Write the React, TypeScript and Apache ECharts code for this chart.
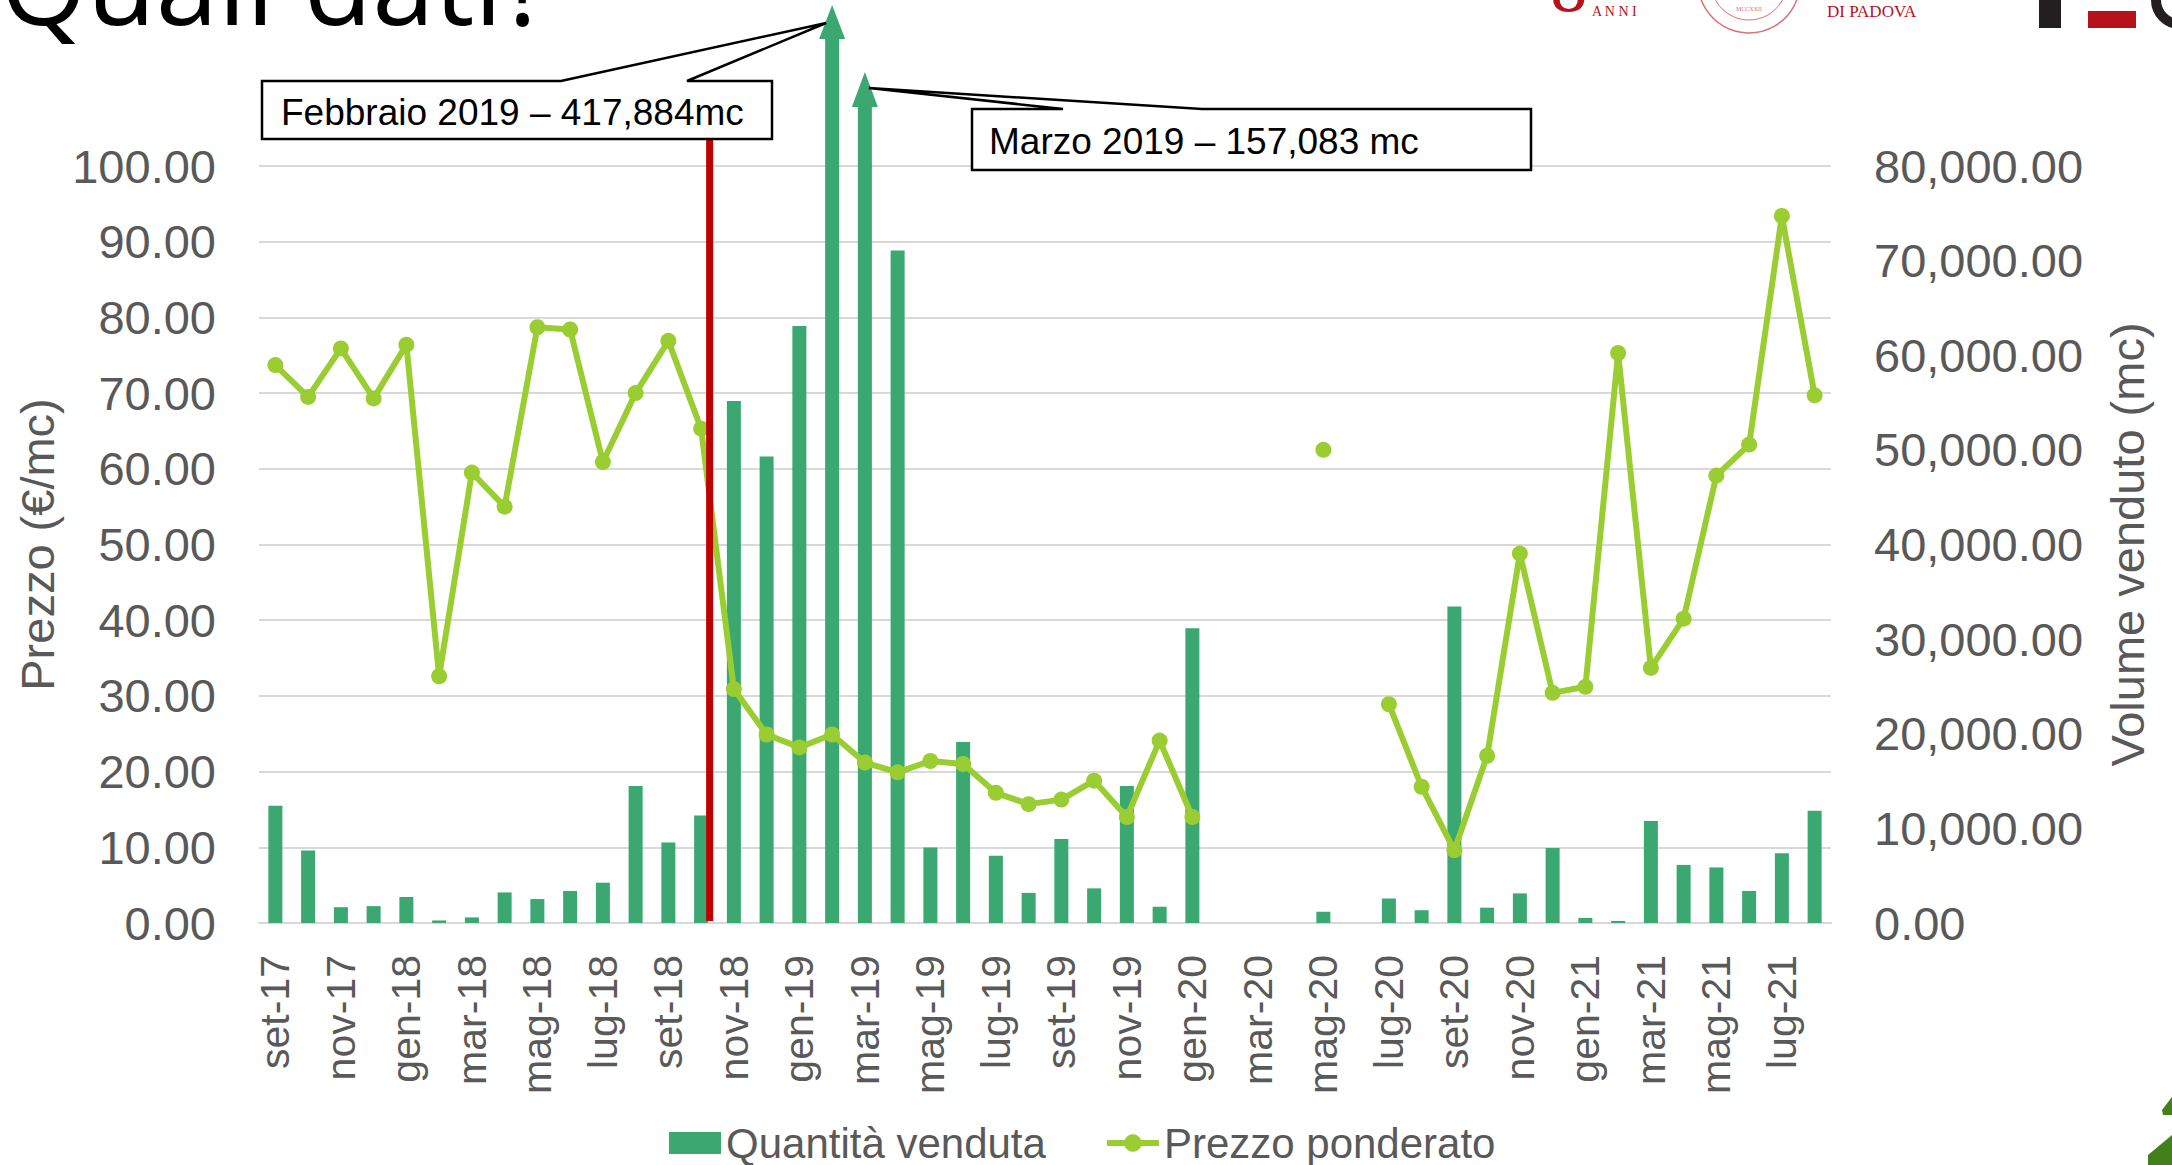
import React, { useEffect, useRef } from 'react';
import * as echarts from 'echarts';

const categories = [
  'set-17', 'ott-17', 'nov-17', 'dic-17', 'gen-18', 'feb-18', 'mar-18', 'apr-18', 'mag-18', 'giu-18', 'lug-18', 'ago-18',
  'set-18', 'ott-18', 'nov-18', 'dic-18', 'gen-19', 'feb-19', 'mar-19', 'apr-19', 'mag-19', 'giu-19', 'lug-19', 'ago-19',
  'set-19', 'ott-19', 'nov-19', 'dic-19', 'gen-20', 'feb-20', 'mar-20', 'apr-20', 'mag-20', 'giu-20', 'lug-20', 'ago-20',
  'set-20', 'ott-20', 'nov-20', 'dic-20', 'gen-21', 'feb-21', 'mar-21', 'apr-21', 'mag-21', 'giu-21', 'lug-21', 'ago-21',
];

// Quantità venduta (mc) - right axis
const volume = [
  12390, 7650, 1670, 1780, 2750, 270, 590, 3230, 2530, 3390, 4260, 14490,
  8510, 11370, 55170, 49300, 63100, 417884, 157083, 71070, 7970, 19130, 7110, 3180,
  8890, 3660, 14490, 1720, 31140, null, null, null, 1190, null, 2590, 1350,
  33460, 1620, 3130, 7920, 540, 220, 10780, 6140, 5870, 3390, 7380, 11850,
];

// Prezzo ponderato (€/mc) - left axis
const price = [
  73.7, 69.5, 75.9, 69.3, 76.4, 32.6, 59.5, 55.0, 78.7, 78.4, 60.9, 70.0,
  76.9, 65.3, 30.9, 24.9, 23.2, 24.9, 21.2, 19.9, 21.4, 21.0, 17.2, 15.7,
  16.3, 18.8, 14.0, 24.1, 14.0, null, null, null, 62.5, null, 28.9, 18.0,
  9.6, 22.1, 48.8, 30.4, 31.2, 75.3, 33.7, 40.2, 59.1, 63.2, 93.4, 69.7,
];

const seriesNames = ['Quantità venduta', 'Prezzo ponderato'];
const axisNames = ['Prezzo (€/mc)', 'Volume venduto (mc)'];
const calloutTexts = ['Febbraio 2019 – 417,884mc', 'Marzo 2019 – 157,083 mc'];
const titleText = 'Quali dati?';

const FONT = '"Liberation Sans", Arial, sans-serif';
const GRAY = '#595959';
const BAR = '#3aa870';
const LINE = '#9acd32';
const RED = '#b5121b';

export default function App() {
  const ref = useRef<HTMLDivElement>(null);
  useEffect(() => {
    document.body.style.margin = '0';
    const chart = echarts.init(ref.current!, null, { renderer: 'svg' });
    const nf = new Intl.NumberFormat('en-US', { minimumFractionDigits: 2, maximumFractionDigits: 2 });
    chart.setOption({
      animation: false,
      textStyle: { fontFamily: FONT },
      grid: { left: 259, right: 341, top: 166, bottom: 242, containLabel: false },
      legend: {
        data: [
          { name: seriesNames[0], icon: 'rect' },
          { name: seriesNames[1], lineStyle: { width: 6 } },
        ],
        left: 664,
        top: 1117,
        itemWidth: 52,
        itemHeight: 22,
        itemGap: 58,
        textStyle: { fontSize: 42, color: GRAY, fontFamily: FONT },
      },
      xAxis: {
        type: 'category',
        data: categories,
        axisLine: { lineStyle: { color: '#d9d9d9', width: 2 } },
        axisTick: { show: false },
        axisLabel: { interval: 1, rotate: 90, fontSize: 41, color: GRAY, margin: 32, fontFamily: FONT },
      },
      yAxis: [
        {
          type: 'value', min: 0, max: 100, interval: 10,
          name: axisNames[0], nameLocation: 'middle', nameGap: 195,
          nameTextStyle: { fontSize: 47, color: GRAY, fontFamily: FONT },
          axisLabel: { formatter: (v: number) => v.toFixed(2), fontSize: 47, color: GRAY, margin: 43, fontFamily: FONT },
          splitLine: { lineStyle: { color: '#d9d9d9', width: 2 } },
          axisLine: { show: false }, axisTick: { show: false },
        },
        {
          type: 'value', min: 0, max: 80000, interval: 10000, position: 'right',
          name: axisNames[1], nameLocation: 'middle', nameGap: 273, nameRotate: 90,
          nameTextStyle: { fontSize: 47, color: GRAY, fontFamily: FONT },
          axisLabel: { formatter: (v: number) => nf.format(v), fontSize: 47, color: GRAY, margin: 43, fontFamily: FONT },
          splitLine: { show: false },
          axisLine: { show: false }, axisTick: { show: false },
        },
      ],
      series: [
        {
          name: seriesNames[0], type: 'bar', yAxisIndex: 1, data: volume,
          barWidth: 14, itemStyle: { color: BAR }, clip: true,
        },
        {
          name: seriesNames[1], type: 'line', yAxisIndex: 0, data: price,
          itemStyle: { color: LINE }, lineStyle: { width: 6, color: LINE },
          symbol: 'circle', symbolSize: 16, showSymbol: true, showAllSymbol: true, connectNulls: false,
        },
      ],
    });

    const px = (c: string) => chart.convertToPixel({ xAxisIndex: 0 }, c) as number;
    const yTop = chart.convertToPixel({ yAxisIndex: 0 }, 100) as number;
    const yBase = chart.convertToPixel({ yAxisIndex: 0 }, 0) as number;
    const cFeb = px('feb-19');
    const cMar = px('mar-19');
    const cRed = px('ott-18') + 8.5;

    const arrow = (cx: number, shaftTop: number, tip: number) => [
      { type: 'rect', z: 50, shape: { x: cx - 7, y: shaftTop - 1, width: 14, height: yTop - shaftTop + 2 }, style: { fill: BAR } },
      { type: 'polygon', z: 50, shape: { points: [[cx - 13, shaftTop], [cx + 13, shaftTop], [cx, tip]] }, style: { fill: BAR } },
    ];

    const boxStyle = { fill: '#ffffff', stroke: '#000000', lineWidth: 2.5 };

    chart.setOption({
      graphic: [
        // title
        { type: 'text', z: 100, style: { text: titleText, x: 0, y: 37, fill: '#000', font: '112px "Open Sans", sans-serif', verticalAlign: 'bottom' } },
        // logos (approximate)
        { type: 'text', z: 100, style: { text: '8', x: 1549, y: 20, fill: RED, font: '62px "DejaVu Serif", serif', verticalAlign: 'bottom' } },
        { type: 'text', z: 100, style: { text: 'A N N I', x: 1592, y: 18, fill: RED, font: '14px "Liberation Serif", serif', verticalAlign: 'bottom' } },
        { type: 'circle', z: 100, shape: { cx: 1749, cy: -18, r: 51 }, style: { fill: 'none', stroke: '#d9727a', lineWidth: 1.5 } },
        { type: 'circle', z: 100, shape: { cx: 1749, cy: -18, r: 38 }, style: { fill: 'none', stroke: '#d9727a', lineWidth: 1 } },
        { type: 'text', z: 100, style: { text: 'MCCXXII', x: 1749, y: 12, fill: '#d9727a', font: '6px serif', align: 'center', verticalAlign: 'bottom' } },
        { type: 'text', z: 100, style: { text: 'DI PADOVA', x: 1827, y: 20, fill: RED, font: '17px "Liberation Serif", serif', verticalAlign: 'bottom' } },
        { type: 'rect', z: 100, shape: { x: 2039, y: 0, width: 22, height: 28 }, style: { fill: '#231f20' } },
        { type: 'rect', z: 100, shape: { x: 2088, y: 11, width: 48, height: 17 }, style: { fill: RED } },
        { type: 'arc', z: 100, shape: { cx: 2180, cy: 0, r: 24, startAngle: Math.PI / 2, endAngle: Math.PI }, style: { stroke: '#231f20', lineWidth: 10, fill: 'none' } },
        // bottom-right green logo fragment
        { type: 'polygon', z: 100, shape: { points: [[2162, 1110], [2172, 1097], [2172, 1115], [2163, 1115]] }, style: { fill: '#41801a' } },
        { type: 'polygon', z: 100, shape: { points: [[2148, 1155], [2172, 1135], [2172, 1165], [2148, 1165]] }, style: { fill: '#41801a' } },
        // arrow extensions for off-scale bars
        ...arrow(cFeb, 39, 5),
        ...arrow(cMar, 107, 72),
        // red divider line
        { type: 'line', z: 60, shape: { x1: cRed, y1: 139, x2: cRed, y2: yBase - 2 }, style: { stroke: '#c00000', lineWidth: 7 } },
        // callout 1
        {
          type: 'polygon', z: 70,
          shape: { points: [[262, 81], [561, 81], [cFeb - 6, 23], [687, 81], [772, 81], [772, 139], [262, 139]] },
          style: boxStyle,
        },
        { type: 'text', z: 71, style: { text: calloutTexts[0], x: 281, y: 112, fill: '#000', font: '37px "Liberation Sans", Arial, sans-serif', verticalAlign: 'middle' } },
        // callout 2
        {
          type: 'polygon', z: 70,
          shape: { points: [[972, 109], [1063, 109], [cMar + 4, 88], [1202, 109], [1531, 109], [1531, 170], [972, 170]] },
          style: boxStyle,
        },
        { type: 'text', z: 71, style: { text: calloutTexts[1], x: 989, y: 141, fill: '#000', font: '37px "Liberation Sans", Arial, sans-serif', verticalAlign: 'middle' } },
      ],
    });

    return () => chart.dispose();
  }, []);
  return <div ref={ref} style={{ width: 2172, height: 1165 }} />;
}
